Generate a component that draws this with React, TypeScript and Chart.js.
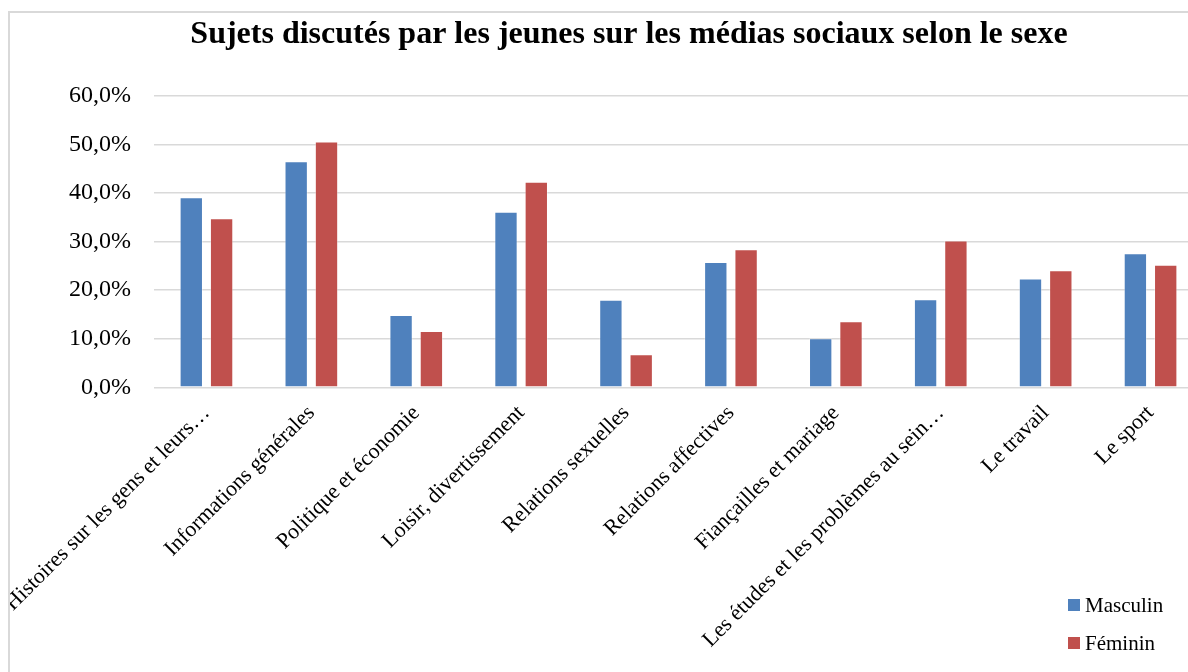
import React, { useEffect, useRef } from "react";
import { Chart, registerables } from "chart.js";

Chart.register(...registerables);

const TITLE = "Sujets discutés par les jeunes sur les médias sociaux selon le sexe";
const categories = [
  "Histoires sur les gens et leurs…",
  "Informations générales",
  "Politique et économie",
  "Loisir, divertissement",
  "Relations sexuelles",
  "Relations affectives",
  "Fiançailles et mariage",
  "Les études et les problèmes au sein…",
  "Le travail",
  "Le sport",
];
const seriesNames = ["Masculin", "Féminin"];
const seriesColors = ["#4F81BD", "#C0504D"];
const masculin = [39.1, 46.5, 14.9, 36.1, 18.0, 25.8, 10.1, 18.1, 22.4, 27.6];
const feminin = [34.8, 50.6, 11.6, 42.3, 6.8, 28.4, 13.6, 30.2, 24.1, 25.2];
const yTicks = { min: 0, max: 60, step: 10 };

const FONT = "'Liberation Serif', 'Times New Roman', serif";
const CW = 1238;
const CH = 700;

export default function App() {
  const ref = useRef<HTMLCanvasElement | null>(null);

  useEffect(() => {
    if (!ref.current) return;
    const values = [masculin, feminin];
    const chart = new Chart(ref.current, {
      type: "bar",
      data: {
        labels: categories,
        datasets: seriesNames.map((n, i) => ({
          label: n,
          data: values[i],
          backgroundColor: seriesColors[i],
          borderColor: "rgba(255,255,255,0.35)",
          borderWidth: 1,
          categoryPercentage: 0.578,
          barPercentage: 0.77,
          yAxisID: "y",
        })),
      },
      options: {
        responsive: false,
        animation: false,
        layout: { padding: 0 },
        plugins: {
          legend: { display: false },
          tooltip: { enabled: false },
          title: {
            display: true,
            text: TITLE,
            color: "#000",
            font: { family: FONT, size: 32, weight: "bold", lineHeight: 1.2 },
            padding: { top: 3, bottom: 41.3 },
          },
        },
        scales: {
          x: {
            grid: { display: false, drawTicks: false },
            border: { display: false },
            ticks: {
              autoSkip: false,
              minRotation: 45,
              maxRotation: 45,
              padding: 13,
              color: "#000",
              font: { family: FONT, size: 22 },
            },
            afterFit: (s: any) => {
              s.height = CH - 374.3;
              s.paddingLeft = 0;
              s.paddingRight = 0;
            },
          },
          y: {
            min: yTicks.min,
            max: yTicks.max,
            grid: { color: "#D9D9D9", lineWidth: 1.5, drawTicks: false },
            border: { display: false },
            ticks: {
              stepSize: yTicks.step,
              padding: 23,
              color: "#000",
              font: { family: FONT, size: 24 },
              callback: (v: any) => Number(v).toFixed(1).replace(".", ",") + "%",
            },
            afterFit: (s: any) => {
              s.width = 144;
              s.paddingTop = 0;
              s.paddingBottom = 0;
            },
          },
          yRight: {
            position: "right",
            display: true,
            grid: { display: false, drawTicks: false },
            border: { display: false },
            ticks: { display: false },
            afterFit: (s: any) => {
              s.width = 45;
              s.paddingTop = 0;
              s.paddingBottom = 0;
            },
          },
        },
      },
    });
    return () => chart.destroy();
  }, []);

  return (
    <div
      style={{
        position: "fixed",
        left: 0,
        top: 0,
        width: 1188,
        height: 672,
        overflow: "hidden",
        background: "#fff",
      }}
    >
      <div
        style={{
          position: "absolute",
          left: 8,
          top: 11,
          width: CW,
          height: CH,
          borderLeft: "2px solid #D9D9D9",
          borderTop: "2px solid #D9D9D9",
        }}
      >
        <canvas ref={ref} width={CW} height={CH} style={{ display: "block", width: CW, height: CH }} />
      </div>
      {seriesNames.map((n, i) => (
        <div
          key={n}
          style={{
            position: "absolute",
            left: 1068,
            top: 595 + i * 37.5,
            height: 20,
            display: "flex",
            alignItems: "center",
            fontFamily: FONT,
            fontSize: 21,
            lineHeight: "20px",
            color: "#000",
            whiteSpace: "nowrap",
          }}
        >
          <span style={{ width: 12, height: 12, background: seriesColors[i], marginRight: 5, display: "inline-block" }} />
          <span>{n}</span>
        </div>
      ))}
    </div>
  );
}
